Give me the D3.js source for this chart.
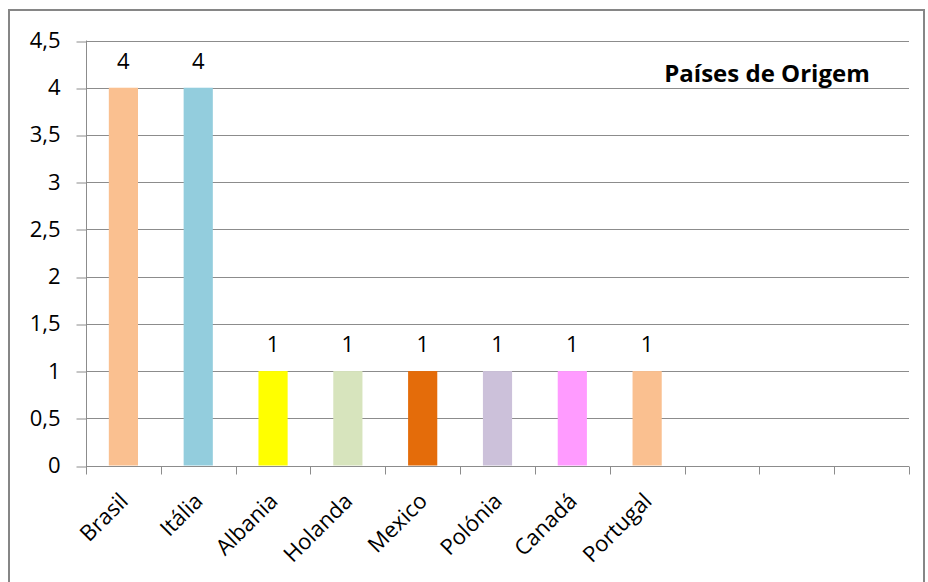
<!DOCTYPE html>
<html lang="pt">
<head>
  <meta charset="UTF-8" />
  <title>Países de Origem</title>
  <style>
    body { margin: 0; background: #fff; }
    svg text { font-family: "Open Sans", sans-serif; fill: #000; }
  </style>
  <script src="https://d3js.org/d3.v7.min.js"></script>
</head>
<body>
<svg id="chart" width="928" height="582"></svg>
<script>
  // dados
  const categories = ['Brasil', 'Itália', 'Albania', 'Holanda', 'Mexico', 'Polónia', 'Canadá', 'Portugal', '', '', ''];
  const values = [4, 4, 1, 1, 1, 1, 1, 1, null, null, null];
  const colors = ['#FAC090', '#93CDDD', '#FFFF00', '#D7E4BD', '#E46C0A', '#CCC1DA', '#FF9BFF', '#FAC090'];
  const yTicks = [0, 0.5, 1, 1.5, 2, 2.5, 3, 3.5, 4, 4.5];
  const title = 'Países de Origem';

  const svg = d3.select('#chart');
  const plot = { left: 86, right: 909, top: 40.5, bottom: 465.5 };

  // moldura
  svg.append('rect')
    .attr('x', 9).attr('y', 10)
    .attr('width', 915).attr('height', 600)
    .attr('fill', 'none')
    .attr('stroke', '#868686')
    .attr('stroke-width', 2);

  const keys = categories.map((c, i) => i);
  const x = d3.scaleBand().domain(keys).range([plot.left, plot.right]).paddingInner(0.61).paddingOuter(0.305);
  const xStep = d3.scaleBand().domain(keys).range([plot.left, plot.right]);
  const y = d3.scaleLinear().domain([0, 4.5]).range([plot.bottom, plot.top]);
  const snap = v => Math.round(v) + 0.5;

  // grade
  svg.append('g')
    .selectAll('line')
    .data(yTicks.filter(d => d > 0))
    .join('line')
    .attr('x1', plot.left).attr('x2', plot.right)
    .attr('y1', d => snap(y(d))).attr('y2', d => snap(y(d)))
    .attr('stroke', '#8c8c8c');

  // eixo y
  const yAxis = svg.append('g')
    .attr('transform', `translate(${plot.left + 0.5},0)`)
    .call(d3.axisLeft(y).tickValues(yTicks).tickSize(10).tickPadding(16)
      .tickFormat(d => String(d).replace('.', ',')));
  yAxis.selectAll('.tick line').attr('stroke', '#8c8c8c').attr('transform', d => `translate(0,${snap(y(d)) - y(d)})`);
  yAxis.select('.domain').attr('stroke', '#8c8c8c').attr('d', `M0,${plot.top}V${plot.bottom + 0.5}`);
  yAxis.selectAll('text').attr('font-size', 22).attr('font-family', '"Open Sans", sans-serif').attr('fill', '#000');

  // eixo x
  const xg = svg.append('g').attr('transform', `translate(0,${snap(plot.bottom)})`);
  xg.append('line').attr('x1', plot.left).attr('x2', plot.right).attr('stroke', '#8c8c8c');
  xg.selectAll('line.tick')
    .data(d3.range(categories.length + 1))
    .join('line')
    .attr('class', 'tick')
    .attr('x1', i => snap(plot.left + i * xStep.step()))
    .attr('x2', i => snap(plot.left + i * xStep.step()))
    .attr('y1', 0).attr('y2', 8)
    .attr('stroke', '#8c8c8c');
  xg.selectAll('text')
    .data(keys.filter(i => categories[i]))
    .join('text')
    .attr('transform', i => `translate(${xStep(i) + xStep.bandwidth() / 2 + 6},${36}) rotate(-45)`)
    .attr('text-anchor', 'end')
    .attr('font-size', 22)
    .text(i => categories[i]);

  // barras
  const data = keys.filter(i => values[i] != null);
  svg.append('g')
    .selectAll('rect')
    .data(data)
    .join('rect')
    .attr('x', i => x(i))
    .attr('width', x.bandwidth())
    .attr('y', i => y(values[i]))
    .attr('height', i => y(0) - y(values[i]))
    .attr('fill', i => colors[i]);

  // rótulos
  svg.append('g')
    .selectAll('text')
    .data(data)
    .join('text')
    .attr('x', i => x(i) + x.bandwidth() / 2)
    .attr('y', i => y(values[i]) - 19)
    .attr('text-anchor', 'middle')
    .attr('font-size', 22)
    .text(i => String(values[i]).replace('.', ','));

  svg.append('text')
    .attr('x', 767).attr('y', 82)
    .attr('text-anchor', 'middle')
    .attr('font-size', 24)
    .attr('font-weight', 'bold')
    .text(title);
</script>
</body>
</html>
